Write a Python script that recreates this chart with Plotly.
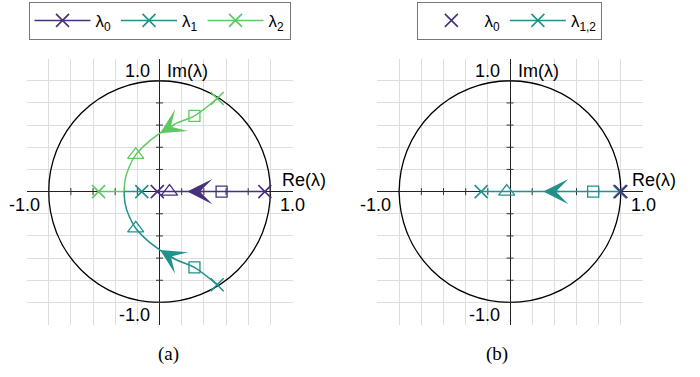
import plotly.graph_objects as go

PURPLE = "#48307e"
TEAL = "#21918c"
GREEN = "#5ec962"
GRID = "#dedede"
FONT = "Liberation Sans"

# axis extent and grid / tick positions
LIM = 1.2
grid_x = [-1.0, -0.8, -0.6, -0.4, -0.2, 0.0, 0.2, 0.4, 0.6, 0.8, 1.0, 1.2]
grid_y = [-1.0, -0.8, -0.6, -0.4, -0.2, 0.0, 0.2, 0.4, 0.6, 0.8, 1.0]
tick_pos = [-1.0, -0.8, -0.6, -0.4, -0.2, 0.2, 0.4, 0.6, 0.8, 1.0]
tick_text = ["-1.0", "1.0"]

# ---------------- panel (a) ----------------
# lambda_0: moves left along the real axis
a0_re = [0.95, -0.02]
a0_im = [0.0, 0.0]
a0_sq = ([0.56], [0.0])
a0_tri = ([0.09], [0.0])
a0_arrow = ([0.41, 0.25], [0.0, 0.0])  # tail, tip

# lambda_2: upper complex branch, then along the negative real axis
a2_arc_re = [0.52, 0.315, 0.15, 0.005, -0.11, -0.215, -0.275, -0.31, -0.32]
a2_arc_im = [0.84, 0.683, 0.615, 0.527, 0.44, 0.331, 0.22, 0.11, 0.0]
a2_axis_re = [-0.32, -0.55]
a2_axis_im = [0.0, 0.0]
a2_sq = ([0.315], [0.683])
a2_tri = ([-0.215], [0.331])
a2_arrow = ([0.15, 0.005], [0.615, 0.527])

# lambda_1: lower complex branch, then right along the real axis
a1_arc_re = [0.52, 0.315, 0.15, 0.005, -0.11, -0.215, -0.275, -0.31, -0.32]
a1_arc_im = [-0.84, -0.683, -0.615, -0.527, -0.44, -0.331, -0.22, -0.11, 0.0]
a1_axis_re = [-0.32, -0.16]
a1_axis_im = [0.0, 0.0]
a1_sq = ([0.315], [-0.683])
a1_tri = ([-0.215], [-0.331])
a1_arrow = ([0.15, 0.005], [-0.615, -0.527])

# ---------------- panel (b) ----------------
b0_re = [1.0]
b0_im = [0.0]
b12_re = [0.99, -0.26]
b12_im = [0.0, 0.0]
b12_sq = ([0.75], [0.0])
b12_tri = ([-0.03], [0.0])
b12_arrow = ([0.46, 0.30], [0.0, 0.0])

LW = 1.5

fig = go.Figure()
annotations = []


def path(re, im, color, xa, ya, shape="linear"):
    fig.add_trace(go.Scatter(
        x=re, y=im, mode="lines", xaxis=xa, yaxis=ya,
        line=dict(color=color, width=LW, shape=shape, smoothing=0.9),
        showlegend=False, hoverinfo="skip"))


def marks(re, im, color, symbol, size, xa, ya, width=1.3):
    fig.add_trace(go.Scatter(
        x=re, y=im, mode="markers", xaxis=xa, yaxis=ya,
        marker=dict(symbol=symbol, size=size, color=color,
                    line=dict(color=color, width=width)),
        showlegend=False, hoverinfo="skip"))


def arrow(pts, color, xa, ya):
    (tx, hx), (ty, hy) = pts
    annotations.append(dict(
        x=hx, y=hy, ax=tx, ay=ty, xref=xa, yref=ya, axref=xa, ayref=ya,
        text="", showarrow=True, arrowhead=3, arrowsize=2.8,
        arrowwidth=LW, arrowcolor=color, standoff=0))


def legend_entry(name, color, mode, legend):
    fig.add_trace(go.Scatter(
        x=[None], y=[None], mode=mode, name=name, legend=legend,
        line=dict(color=color, width=LW),
        marker=dict(symbol="x-thin", size=13, color=color,
                    line=dict(color=color, width=1.6))))


def axis_ticks(xa, ya):
    fig.add_trace(go.Scatter(
        x=tick_pos, y=[0.0] * len(tick_pos), mode="markers", xaxis=xa, yaxis=ya,
        marker=dict(symbol="line-ns", size=5, line=dict(color="#333", width=1)),
        showlegend=False, hoverinfo="skip"))
    fig.add_trace(go.Scatter(
        x=[0.0] * len(tick_pos), y=tick_pos, mode="markers", xaxis=xa, yaxis=ya,
        marker=dict(symbol="line-ew", size=5, line=dict(color="#333", width=1)),
        showlegend=False, hoverinfo="skip"))


# panel (a)
axis_ticks("x", "y")
path(a0_re, a0_im, PURPLE, "x", "y")
path(a2_arc_re, a2_arc_im, GREEN, "x", "y", "spline")
path(a2_axis_re, a2_axis_im, GREEN, "x", "y")
path(a1_arc_re, a1_arc_im, TEAL, "x", "y", "spline")
path(a1_axis_re, a1_axis_im, TEAL, "x", "y")
for re, im, sq, tri, arr, col in [
    (a2_arc_re[:1] + a2_axis_re[-1:], a2_arc_im[:1] + a2_axis_im[-1:], a2_sq, a2_tri, a2_arrow, GREEN),
    (a1_arc_re[:1] + a1_axis_re[-1:], a1_arc_im[:1] + a1_axis_im[-1:], a1_sq, a1_tri, a1_arrow, TEAL),
    (a0_re, a0_im, a0_sq, a0_tri, a0_arrow, PURPLE),
]:
    marks(*sq, col, "square-open", 11, "x", "y")
    marks(*tri, col, "triangle-up-open", 14, "x", "y")
    marks(re, im, col, "x-thin", 13, "x", "y", 1.6)
    arrow(arr, col, "x", "y")

# panel (b)
axis_ticks("x2", "y2")
path(b12_re, b12_im, TEAL, "x2", "y2")
marks(*b12_sq, TEAL, "square-open", 11, "x2", "y2")
marks(*b12_tri, TEAL, "triangle-up-open", 14, "x2", "y2")
marks(b12_re, b12_im, TEAL, "x-thin", 13, "x2", "y2", 1.6)
marks(b0_re, b0_im, PURPLE, "x-thin", 13, "x2", "y2", 1.6)
arrow(b12_arrow, TEAL, "x2", "y2")

# legends
legend_entry("λ<sub>0</sub>", PURPLE, "lines+markers", "legend")
legend_entry("λ<sub>1</sub>", TEAL, "lines+markers", "legend")
legend_entry("λ<sub>2</sub>", GREEN, "lines+markers", "legend")
legend_entry("λ<sub>0</sub>", PURPLE, "markers", "legend2")
legend_entry("λ<sub>1,2</sub>", TEAL, "lines+markers", "legend2")

shapes = []
for xa, ya in [("x", "y"), ("x2", "y2")]:
    shapes.append(dict(type="circle", xref=xa, yref=ya, x0=-1, y0=-1, x1=1, y1=1,
                       line=dict(color="black", width=1.3), layer="between"))
    lbl = dict(xref=xa, yref=ya, showarrow=False,
               font=dict(family=FONT, size=18, color="black"))
    annotations += [
        dict(lbl, text="Re(λ)", x=1.085, y=0.105, xanchor="left", yanchor="middle"),
        dict(lbl, text=tick_text[1], x=1.2, y=-0.12, xanchor="center", yanchor="middle"),
        dict(lbl, text=tick_text[0], x=-1.06, y=-0.12, xanchor="right", yanchor="middle"),
        dict(lbl, text=tick_text[1], x=-0.07, y=1.085, xanchor="right", yanchor="middle"),
        dict(lbl, text="Im(λ)", x=0.05, y=1.085, xanchor="left", yanchor="middle"),
        dict(lbl, text=tick_text[0], x=-0.07, y=-1.115, xanchor="right", yanchor="middle"),
    ]

cap = dict(xref="paper", yref="paper", showarrow=False, yanchor="middle",
           font=dict(family="Liberation Serif", size=19, color="black"))
annotations += [dict(cap, text="(a)", x=0.2228, y=0.061),
                dict(cap, text="(b)", x=0.7286, y=0.061)]


def xaxis(domain):
    return dict(domain=domain, range=[-LIM, LIM], tickvals=grid_x, showticklabels=False,
                showgrid=True, gridcolor=GRID, gridwidth=1, zeroline=True,
                zerolinecolor="#222", zerolinewidth=1.3, showline=False, ticks="",
                fixedrange=True)


def yaxis(domain, anchor):
    return dict(domain=domain, range=[-LIM, LIM], tickvals=grid_y, showticklabels=False,
                showgrid=True, gridcolor=GRID, gridwidth=1, zeroline=True,
                zerolinecolor="#222", zerolinewidth=1.3, showline=False, ticks="",
                anchor=anchor, fixedrange=True)


ydom = [0.1390, 0.8446]
leg = dict(orientation="h", yanchor="top", y=0.995, xanchor="center",
           bordercolor="#777", borderwidth=1, bgcolor="white",
           font=dict(family=FONT, size=17, color="black"), itemwidth=56)

fig.update_layout(
    width=700, height=377, autosize=False,
    margin=dict(l=0, r=0, t=0, b=0),
    paper_bgcolor="white", plot_bgcolor="white",
    xaxis=dict(xaxis([0.0379, 0.4179]), anchor="y"),
    yaxis=yaxis(ydom, "x"),
    xaxis2=dict(xaxis([0.5386, 0.9186]), anchor="y2"),
    yaxis2=yaxis(ydom, "x2"),
    legend=dict(leg, x=0.2279),
    legend2=dict(leg, x=0.7284),
    shapes=shapes,
    annotations=annotations,
)

fig.write_html("out.html")
